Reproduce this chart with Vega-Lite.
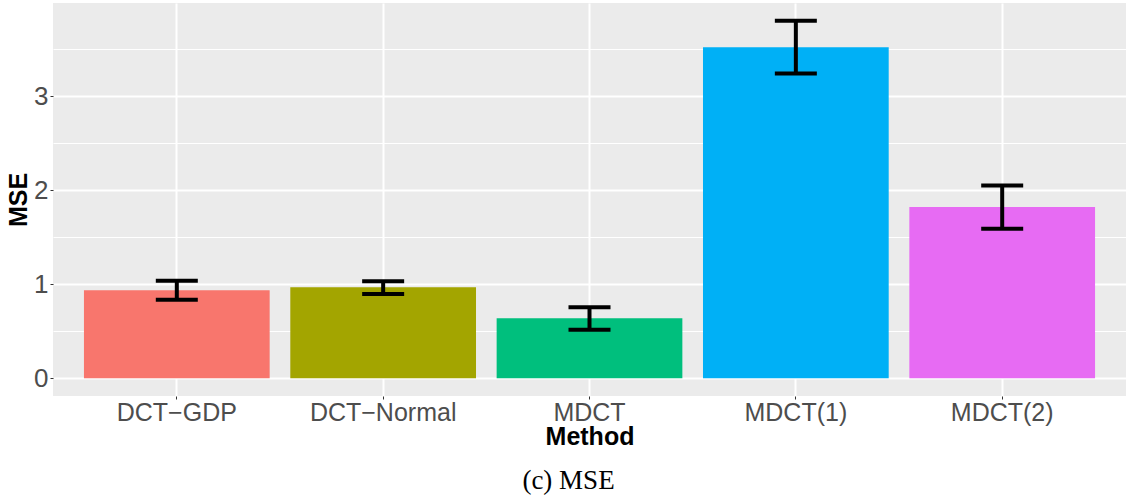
{
  "$schema": "https://vega.github.io/schema/vega-lite/v6.json",
  "autosize": {"type": "none"},
  "width": 1073,
  "height": 393,
  "padding": {"left": 53, "top": 3, "right": 1, "bottom": 103},
  "background": "white",
  "config": {
    "view": {"fill": "#EBEBEB", "stroke": null},
    "font": "Liberation Sans"
  },
  "title": {
    "text": "(c) MSE",
    "orient": "bottom",
    "font": "Liberation Serif",
    "fontSize": 27,
    "fontWeight": "normal",
    "color": "black",
    "dx": -21,
    "offset": 19
  },
  "data": {
    "values": [
      {"method": "DCT−GDP", "mse": 0.936, "lo": 0.833, "hi": 1.035},
      {"method": "DCT−Normal", "mse": 0.968, "lo": 0.894, "hi": 1.03},
      {"method": "MDCT", "mse": 0.638, "lo": 0.514, "hi": 0.755},
      {"method": "MDCT(1)", "mse": 3.52, "lo": 3.24, "hi": 3.8},
      {"method": "MDCT(2)", "mse": 1.82, "lo": 1.59, "hi": 2.05}
    ]
  },
  "encoding": {
    "x": {
      "field": "method",
      "type": "nominal",
      "sort": null,
      "scale": {"paddingInner": 0.1, "paddingOuter": 0.15},
      "axis": {
        "title": "Method",
        "titleFontSize": 25,
        "titleFontWeight": "bold",
        "titleColor": "black",
        "titlePadding": -1,
        "labelAngle": 0,
        "labelFontSize": 25,
        "labelColor": "#4D4D4D",
        "labelPadding": 1,
        "tickColor": "#333333",
        "tickSize": 3,
        "tickWidth": 1,
        "domain": false,
        "grid": true,
        "gridColor": "white",
        "gridWidth": 2,
        "bandPosition": 0.5
      }
    }
  },
  "layer": [
    {
      "mark": {"type": "bar"},
      "encoding": {
        "y": {
          "field": "mse",
          "type": "quantitative",
          "scale": {"domain": [-0.19, 3.99], "nice": false, "zero": false},
          "axis": {
            "title": "MSE",
            "titleFontSize": 25,
            "titleFontWeight": "bold",
            "titleColor": "black",
            "titlePadding": 2,
            "values": [0, 0.5, 1, 1.5, 2, 2.5, 3, 3.5],
            "labelExpr": "datum.value % 1 === 0 ? format(datum.value, 'd') : ''",
            "labelFontSize": 26,
            "labelColor": "#4D4D4D",
            "labelPadding": 2,
            "tickColor": "#333333",
            "tickSize": 3,
            "tickWidth": 1,
            "tickOpacity": {"condition": {"test": "datum.value % 1 === 0", "value": 1}, "value": 0},
            "domain": false,
            "grid": true,
            "gridColor": "white",
            "gridWidth": {"condition": {"test": "datum.value % 1 === 0", "value": 2}, "value": 1.1}
          }
        },
        "color": {
          "field": "method",
          "type": "nominal",
          "sort": null,
          "scale": {
            "domain": ["DCT−GDP", "DCT−Normal", "MDCT", "MDCT(1)", "MDCT(2)"],
            "range": ["#F8766D", "#A3A500", "#00BF7D", "#00B0F6", "#E76BF3"]
          },
          "legend": null
        }
      }
    },
    {
      "mark": {"type": "rule", "color": "black", "strokeWidth": 4},
      "encoding": {
        "y": {"field": "lo", "type": "quantitative"},
        "y2": {"field": "hi"}
      }
    },
    {
      "mark": {"type": "tick", "color": "black", "opacity": 1, "size": 42, "thickness": 4},
      "encoding": {"y": {"field": "lo", "type": "quantitative"}}
    },
    {
      "mark": {"type": "tick", "color": "black", "opacity": 1, "size": 42, "thickness": 4},
      "encoding": {"y": {"field": "hi", "type": "quantitative"}}
    }
  ]
}
